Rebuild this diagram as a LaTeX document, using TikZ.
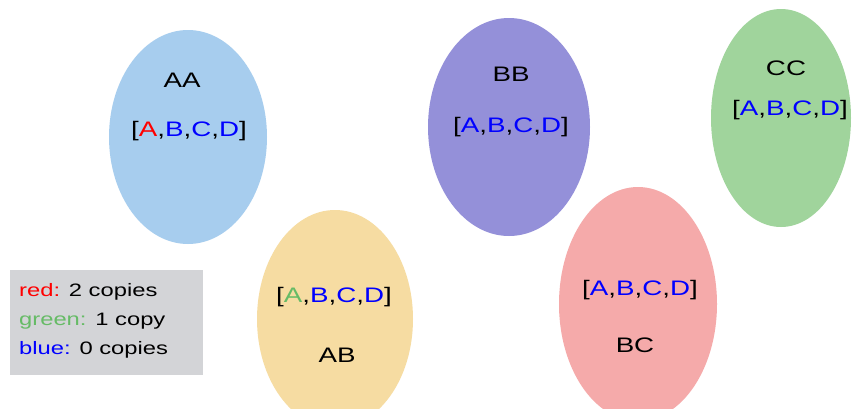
\documentclass[tikz,border=0pt]{standalone}
\usepackage{graphicx}
\usepackage{fontspec}
\setmainfont{Liberation Sans}
\usetikzlibrary{shapes.geometric}

\definecolor{fillAA}{RGB}{167,205,238}
\definecolor{fillBB}{RGB}{148,144,217}
\definecolor{fillCC}{RGB}{160,212,156}
\definecolor{fillAB}{RGB}{246,220,162}
\definecolor{fillBC}{RGB}{245,170,170}
\definecolor{keyred}{RGB}{255,0,0}
\definecolor{keygreen}{RGB}{102,187,102}
\definecolor{keyblue}{RGB}{0,0,255}
\definecolor{keybox}{RGB}{211,212,215}

% text in the figure is set a bit wide
\newcommand{\wide}[1]{\scalebox{1.32}[1]{#1}}
\newcommand{\abcd}[1]{\wide{[{\color{#1}A},{\color{keyblue}B},{\color{keyblue}C},{\color{keyblue}D}]}}

\tikzset{
  blob/.style={ellipse, draw=none, inner sep=0pt, minimum width=158pt, minimum height=218pt},
  tag/.style={font=\fontsize{21}{25}\selectfont, inner sep=0pt},
  keytext/.style={font=\fontsize{18}{22}\selectfont, anchor=west, inner sep=0pt}
}

\begin{document}
\begin{tikzpicture}[x=1pt, y=-1pt]
  \clip (0,0) rectangle (852,408);
  \fill[white] (0,0) rectangle (852,408);

  % groups
  \node[blob, fill=fillAA, minimum height=214pt] (aa) at (188,137) {};
  \node[blob, fill=fillBB, minimum width=162pt] (bb) at (509,127) {};
  \node[blob, fill=fillCC, minimum width=140pt] (cc) at (781,118) {};
  \node[blob, fill=fillAB, minimum width=156pt, minimum height=218pt] (ab) at (335,319) {};
  \node[blob, fill=fillBC, minimum height=234pt] (bc) at (638,304) {};

  % labels
  \node[tag] (aaname) at (182,80) {\wide{AA}};
  \node[tag] (aalist) at (189,131) {\abcd{keyred}};
  \node[tag] (bbname) at (511,74) {\wide{BB}};
  \node[tag] (bblist) at (511,127) {\abcd{keyblue}};
  \node[tag] (ccname) at (786,68) {\wide{CC}};
  \node[tag] (cclist) at (790,110) {\abcd{keyblue}};
  \node[tag] (ablist) at (334,297) {\abcd{keygreen}};
  \node[tag] (abname) at (337,355) {\wide{AB}};
  \node[tag] (bclist) at (640,290) {\abcd{keyblue}};
  \node[tag] (bcname) at (635,345) {\wide{BC}};

  % key
  \fill[keybox] (10,270) rectangle (203,375);
  \node[keytext] (keyr) at (19,292) {\wide{{\color{keyred}red:} 2 copies}};
  \node[keytext] (keyg) at (19,321) {\wide{{\color{keygreen}green:} 1 copy}};
  \node[keytext] (keyb) at (19,350) {\wide{{\color{keyblue}blue:} 0 copies}};
\end{tikzpicture}
\end{document}
